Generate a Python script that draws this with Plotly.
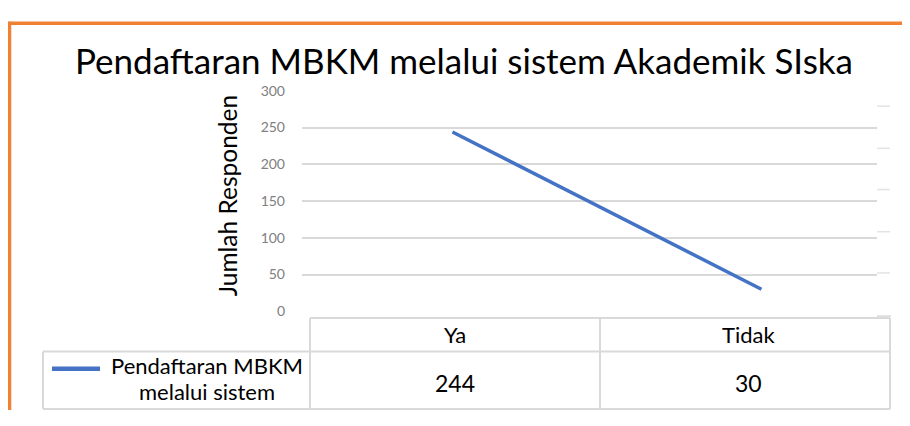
import plotly.graph_objects as go

categories = ["Ya", "Tidak"]
values = [244, 30]
series_name_lines = ["Pendaftaran MBKM", "melalui sistem"]
y_ticks = [0, 50, 100, 150, 200, 250, 300]

# page body has an 8px default margin; keep the figure inside the window
OFF = 8
W, H = 910 - 2 * OFF, 426 - 2 * OFF
FONT = "Lato"


def px(x):
    return (x - OFF) / W


def py(y):
    return 1 - (y - OFF) / H


fig = go.Figure()
fig.add_trace(go.Scatter(
    x=categories, y=values, mode="lines",
    line=dict(color="#4472C4", width=3.5),
    showlegend=False, hoverinfo="skip", cliponaxis=False,
))

shapes = []
# orange frame
shapes.append(dict(type="line", xref="paper", yref="paper", x0=px(8), x1=1.0, y0=py(14.5), y1=py(14.5),
                   line=dict(color="#F08133", width=3.5)))
shapes.append(dict(type="line", xref="paper", yref="paper", x0=px(9.5), x1=px(9.5), y0=py(13), y1=0,
                   line=dict(color="#F08133", width=3.5)))

grey = "#D9D9D9"
# data table borders
tbl = [
    (310, 322, 890, 322),
    (43, 357, 890, 357),
    (43, 417, 890, 417),
    (310, 322, 310, 417),
    (600, 322, 600, 417),
    (890, 322, 890, 417),
    (43, 357, 43, 417),
]
for x0, y0, x1, y1 in tbl:
    shapes.append(dict(type="line", xref="paper", yref="paper", x0=px(x0), x1=px(x1), y0=py(y0), y1=py(y1),
                       line=dict(color=grey, width=2)))
# stray right-side dashes
for yy in [101, 145, 188, 232, 275]:
    shapes.append(dict(type="line", xref="paper", yref="paper", x0=px(877), x1=px(890), y0=py(yy), y1=py(yy),
                       line=dict(color="#E3E3E3", width=1.5)))
shapes.append(dict(type="line", xref="paper", yref="paper", x0=px(877), x1=px(891), y0=py(320), y1=py(320),
                   line=dict(color=grey, width=1.5)))
# legend key line
shapes.append(dict(type="line", xref="paper", yref="paper", x0=px(52), x1=px(100), y0=py(375), y1=py(375),
                   line=dict(color="#4472C4", width=4.5)))

annotations = []
annotations.append(dict(text="Pendaftaran MBKM melalui sistem Akademik SIska", xref="paper", yref="paper",
                        x=px(464), y=py(53), showarrow=False, xanchor="center", yanchor="middle",
                        font=dict(family=FONT, size=35, color="#000000")))
annotations.append(dict(text="Jumlah Responden", xref="paper", yref="paper", x=px(227), y=py(195),
                        textangle=-90, showarrow=False, xanchor="center", yanchor="middle",
                        font=dict(family=FONT, size=24.5, color="#000000")))
col_x = [455, 748]
for cx, cat, v in zip(col_x, categories, values):
    annotations.append(dict(text=cat, xref="paper", yref="paper", x=px(cx), y=py(339), showarrow=False,
                            xanchor="center", yanchor="middle", font=dict(family=FONT, size=22, color="#000000")))
    annotations.append(dict(text=str(v), xref="paper", yref="paper", x=px(cx), y=py(390), showarrow=False,
                            xanchor="center", yanchor="middle", font=dict(family=FONT, size=23, color="#000000")))
for line_text, ly in zip(series_name_lines, [372, 399]):
    annotations.append(dict(text=line_text, xref="paper", yref="paper", x=px(207), y=py(ly), showarrow=False,
                            xanchor="center", yanchor="middle",
                            font=dict(family=FONT, size=22, color="#000000")))

fig.update_layout(
    width=W, height=H, autosize=False,
    margin=dict(l=0, r=0, t=0, b=0),
    paper_bgcolor="white", plot_bgcolor="white",
    shapes=shapes, annotations=annotations,
    xaxis=dict(domain=[px(302), px(877)], type="category", range=[-0.487, 1.374],
               showticklabels=False, showgrid=False, zeroline=False, showline=False),
    yaxis=dict(domain=[py(315), py(85)], range=[0, 300], tickvals=y_ticks,
               showgrid=True, gridcolor=grey, gridwidth=1.5, zeroline=False, showline=False,
               ticks="", ticklabelstandoff=16,
               tickfont=dict(family=FONT, size=14, color="#808080")),
)

fig.write_html("out.html")
